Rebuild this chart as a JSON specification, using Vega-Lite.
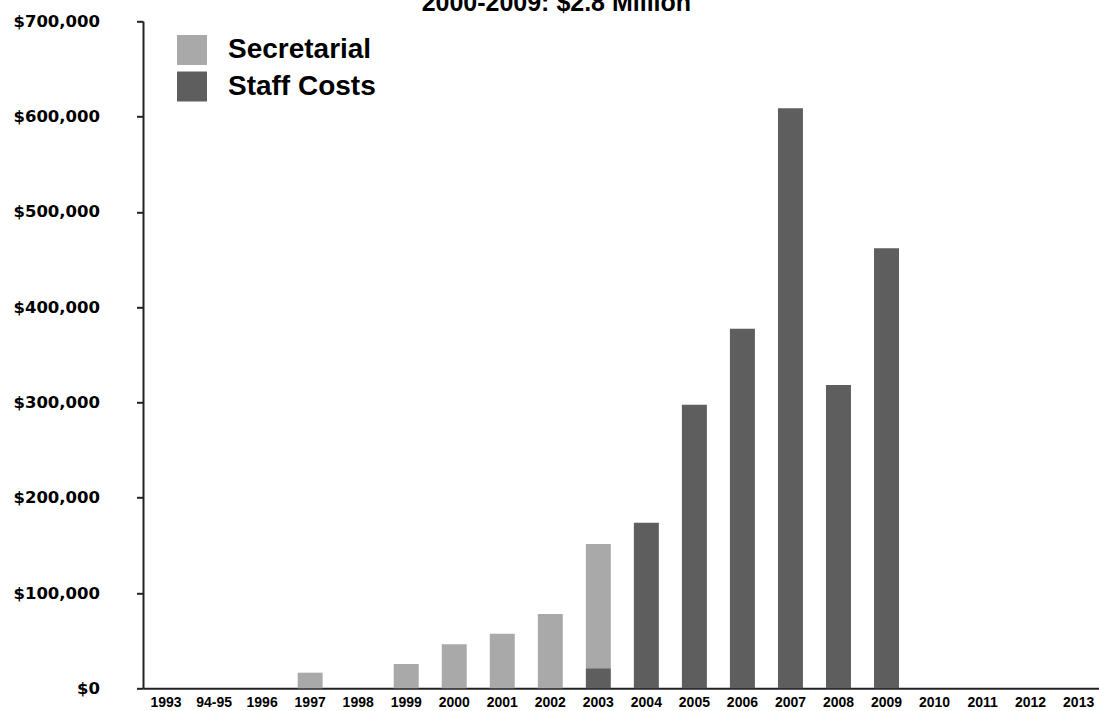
{
  "$schema": "https://vega.github.io/schema/vega-lite/v6.json",
  "autosize": {"type": "none"},
  "width": 958.7,
  "height": 667,
  "padding": {"left": 143, "top": 21.3, "right": 0, "bottom": 22.7},
  "background": "white",
  "config": {"view": {"stroke": null}},
  "title": {
    "text": "2000-2009: $2.8 Million",
    "font": "Liberation Sans",
    "fontSize": 25,
    "fontWeight": "bold",
    "color": "#000000",
    "anchor": "middle",
    "dx": -66,
    "dy": 26,
    "baseline": "alphabetic",
    "offset": 3
  },
  "data": {
    "values": [
      {"year": "1997", "type": "Secretarial", "amount": 16400},
      {"year": "1999", "type": "Secretarial", "amount": 25500},
      {"year": "2000", "type": "Secretarial", "amount": 46200},
      {"year": "2001", "type": "Secretarial", "amount": 57300},
      {"year": "2002", "type": "Secretarial", "amount": 78000},
      {"year": "2003", "type": "Secretarial", "amount": 130400},
      {"year": "2003", "type": "Staff Costs", "amount": 21000},
      {"year": "2004", "type": "Staff Costs", "amount": 173800},
      {"year": "2005", "type": "Staff Costs", "amount": 297600},
      {"year": "2006", "type": "Staff Costs", "amount": 377400},
      {"year": "2007", "type": "Staff Costs", "amount": 608700},
      {"year": "2008", "type": "Staff Costs", "amount": 318300},
      {"year": "2009", "type": "Staff Costs", "amount": 461800}
    ]
  },
  "mark": {"type": "bar"},
  "encoding": {
    "x": {
      "field": "year",
      "type": "ordinal",
      "scale": {
        "domain": ["1993", "94-95", "1996", "1997", "1998", "1999", "2000", "2001", "2002", "2003", "2004", "2005", "2006", "2007", "2008", "2009", "2010", "2011", "2012", "2013"],
        "paddingInner": 0.48,
        "paddingOuter": 0.22
      },
      "axis": {
        "title": null,
        "ticks": false,
        "labelAngle": 0,
        "labelFont": "Liberation Sans",
        "labelFontSize": 14,
        "labelFontWeight": "bold",
        "labelColor": "#000000",
        "labelPadding": 7,
        "labelBaseline": "top",
        "domainColor": "#222222",
        "domainWidth": 2
      }
    },
    "y": {
      "field": "amount",
      "type": "quantitative",
      "stack": "zero",
      "scale": {"domain": [0, 700000], "nice": false},
      "axis": {
        "title": null,
        "grid": false,
        "values": [0, 100000, 200000, 300000, 400000, 500000, 600000, 700000],
        "format": "$,.0f",
        "tickSize": 6.5,
        "tickColor": "#222222",
        "tickWidth": 2,
        "domainColor": "#222222",
        "domainWidth": 2,
        "labelFont": "DejaVu Sans",
        "labelFontSize": 16.5,
        "labelFontWeight": "bold",
        "labelColor": "#000000",
        "labelPadding": 37
      }
    },
    "color": {
      "field": "type",
      "type": "nominal",
      "scale": {"domain": ["Secretarial", "Staff Costs"], "range": ["#a9a9a9", "#5e5e5e"]},
      "legend": {
        "orient": "none",
        "legendX": 34,
        "legendY": 13.7,
        "title": null,
        "symbolType": "square",
        "symbolSize": 900,
        "symbolStrokeWidth": 0,
        "symbolOpacity": 1,
        "labelFont": "Liberation Sans",
        "labelFontSize": 28,
        "labelFontWeight": "bold",
        "labelColor": "#000000",
        "labelOffset": 21,
        "rowPadding": 6.5,
        "padding": 0
      }
    },
    "order": {"field": "type", "sort": "descending"}
  }
}
